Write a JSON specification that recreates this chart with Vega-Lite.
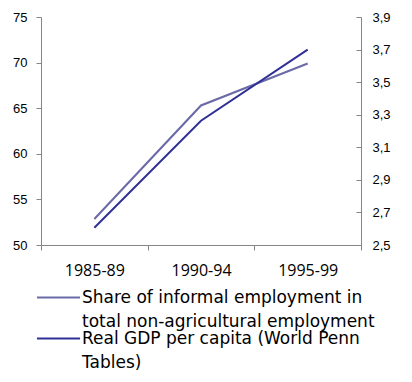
{
  "$schema": "https://vega.github.io/schema/vega-lite/v6.json",
  "width": 320,
  "height": 228,
  "autosize": {"type": "none"},
  "padding": {"left": 41, "top": 17, "right": 51, "bottom": 137},
  "background": "white",
  "config": {
    "view": {"stroke": null},
    "axis": {"domainColor": "#868686", "tickColor": "#868686", "grid": false, "title": null, "labelColor": "#000000"},
    "legend": {"padding": 0},
    "style": {"guide-label": {"lineHeight": 24}}
  },
  "data": {
    "values": [
      {"period": "1985-89", "series": "informal", "value": 52.85},
      {"period": "1990-94", "series": "informal", "value": 65.3},
      {"period": "1995-99", "series": "informal", "value": 69.9},
      {"period": "1985-89", "series": "gdp", "value": 2.606},
      {"period": "1990-94", "series": "gdp", "value": 3.263},
      {"period": "1995-99", "series": "gdp", "value": 3.70}
    ]
  },
  "layer": [
    {
      "transform": [{"filter": "datum.series === 'informal'"}],
      "mark": {"type": "line", "strokeWidth": 2},
      "encoding": {
        "x": {
          "field": "period", "type": "ordinal", "bandPosition": 0.5,
          "scale": {"type": "band", "paddingInner": 0, "paddingOuter": 0},
          "axis": {"labelAngle": 0, "tickBand": "extent", "tickSize": 5, "labelPadding": 12, "labelFont": "Open Sans", "labelFontSize": 16}
        },
        "y": {
          "field": "value", "type": "quantitative",
          "scale": {"domain": [50, 75], "zero": false, "nice": false},
          "axis": {"orient": "left", "values": [50, 55, 60, 65, 70, 75], "tickSize": 5, "labelPadding": 9, "labelFont": "Liberation Sans", "labelFontSize": 13}
        },
        "color": {
          "field": "series", "type": "nominal",
          "scale": {"domain": ["informal", "gdp"], "range": ["#6a6aa8", "#303096"]},
          "legend": {
            "title": null, "orient": "none", "legendX": 9, "legendY": 272,
            "symbolType": "M-4,0H4", "symbolSize": 116, "symbolStrokeWidth": 2,
            "labelFont": "DejaVu Sans", "labelFontSize": 17, "labelLimit": 400, "labelOffset": 15,
            "labelColor": "#000000", "labelBaseline": "middle", "rowPadding": -1,
            "labelExpr": "datum.value === 'informal' ? ['Share of informal employment in', 'total non-agricultural employment'] : ['Real GDP per capita (World Penn', 'Tables)']"
          }
        }
      }
    },
    {
      "transform": [{"filter": "datum.series === 'gdp'"}],
      "mark": {"type": "line", "strokeWidth": 2},
      "encoding": {
        "x": {"field": "period", "type": "ordinal", "bandPosition": 0.5},
        "y": {
          "field": "value", "type": "quantitative",
          "scale": {"domain": [2.5, 3.9], "zero": false, "nice": false},
          "axis": {"orient": "right", "values": [2.5, 2.7, 2.9, 3.1, 3.3, 3.5, 3.7, 3.9], "tickSize": -5, "labelPadding": 16, "labelFont": "Liberation Sans", "labelFontSize": 13,
            "labelExpr": "replace(format(datum.value, '.1f'), '.', ',')"}
        },
        "color": {"field": "series", "type": "nominal"}
      }
    }
  ],
  "resolve": {"scale": {"y": "independent"}, "axis": {"y": "independent"}}
}
